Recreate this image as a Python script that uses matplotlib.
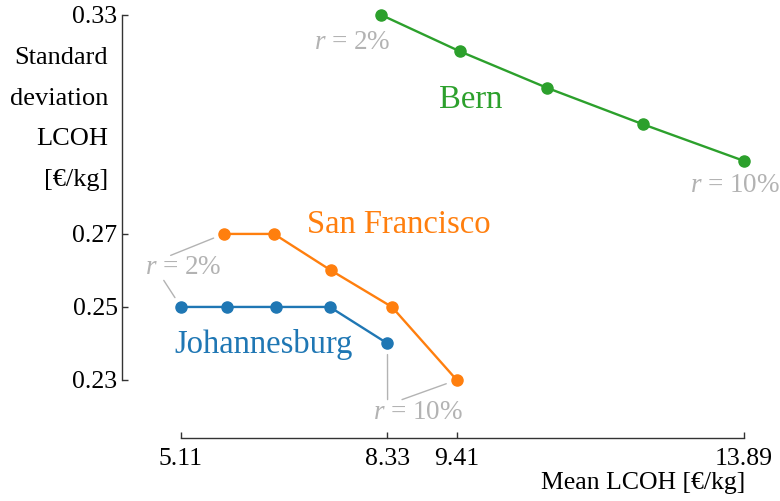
import matplotlib
matplotlib.use("Agg")
import matplotlib.pyplot as plt

plt.rcParams["font.family"] = ["Liberation Serif", "DejaVu Serif"]
plt.rcParams["mathtext.fontset"] = "custom"
plt.rcParams["mathtext.rm"] = "Liberation Serif"
plt.rcParams["mathtext.it"] = "Liberation Serif:italic"

# Mean and standard deviation of LCOH for interest rates r = 2% ... 10%
johannesburg_mean = [5.11, 5.83, 6.59, 7.43, 8.33]
johannesburg_std = [0.25, 0.25, 0.25, 0.25, 0.24]
sanfrancisco_mean = [5.78, 6.56, 7.45, 8.40, 9.41]
sanfrancisco_std = [0.27, 0.27, 0.26, 0.25, 0.23]
bern_mean = [8.23, 9.46, 10.82, 12.32, 13.89]
bern_std = [0.33, 0.32, 0.31, 0.30, 0.29]

x_ticks = [5.11, 8.33, 9.41, 13.89]
y_ticks = [0.23, 0.25, 0.27, 0.33]

blue, orange, green = "#1f77b4", "#ff7f0e", "#2ca02c"
grey = "#b3b3b3"

fig = plt.figure(figsize=(7.8, 5.01), dpi=100)
ax = fig.add_axes([0.156, 0.1257, 0.8312, 0.8643])

for xs, ys, c in [(johannesburg_mean, johannesburg_std, blue),
                  (sanfrancisco_mean, sanfrancisco_std, orange),
                  (bern_mean, bern_std, green)]:
    ax.plot(xs, ys, color=c, lw=1.7, marker="o", ms=8, clip_on=False, zorder=3)

ax.set_xlim(4.185, 14.296)
ax.set_ylim(0.2141, 0.3327)

for s in ["top", "right"]:
    ax.spines[s].set_visible(False)
ax.spines["left"].set_bounds(y_ticks[0], y_ticks[-1])
ax.spines["bottom"].set_bounds(x_ticks[0], x_ticks[-1])
for s in ["left", "bottom"]:
    ax.spines[s].set_linewidth(1.0)
    ax.spines[s].set_color("#333333")

ax.set_xticks(x_ticks)
ax.set_xticklabels([f"{v:.2f}" for v in x_ticks])
ax.set_yticks(y_ticks)
ax.set_yticklabels([f"{v:.2f}" for v in y_ticks])
ax.tick_params(direction="in", length=4, width=1.0, color="#333333", labelsize=18.5)
ax.tick_params(axis="x", pad=7)
ax.tick_params(axis="y", pad=3)

fig.text(108 / 780, 1 - 119 / 501, "Standard\ndeviation\nLCOH\n[€/kg]",
         ha="right", va="center", multialignment="right", fontsize=19,
         linespacing=2.1)
fig.text(745 / 780, 1 - 483 / 501, "Mean LCOH [€/kg]", ha="right", va="center",
         fontsize=18.5)

# City names
ax.text(9.63, 0.3067, "Bern", color=green, fontsize=23.5, ha="center", va="center")
ax.text(8.51, 0.2725, "San Francisco", color=orange, fontsize=23.5, ha="center", va="center")
ax.text(6.39, 0.2396, "Johannesburg", color=blue, fontsize=23.5, ha="center", va="center")

# Interest rate annotations
lbl_kw = dict(color=grey, fontsize=19.5, ha="center", va="center")
ax.text(7.78, 0.3223, "$r$ = 2%", **lbl_kw)
ax.text(13.75, 0.2834, "$r$ = 10%", **lbl_kw)
low_r = ax.text(5.14, 0.2607, "$r$ = 2%", **lbl_kw)
high_r = ax.text(8.81, 0.2212, "$r$ = 10%", **lbl_kw)

leader = dict(arrowstyle="-", color=grey, lw=1.0, shrinkA=0, shrinkB=8)
ax.annotate("", xy=(sanfrancisco_mean[0], sanfrancisco_std[0]), xytext=(0.34, 1.0),
            textcoords=low_r, arrowprops=leader)
ax.annotate("", xy=(johannesburg_mean[0], johannesburg_std[0]), xytext=(0.25, 0.0),
            textcoords=low_r, arrowprops=leader)
ax.annotate("", xy=(johannesburg_mean[-1], johannesburg_std[-1]), xytext=(0.16, 1.0),
            textcoords=high_r, arrowprops=leader)
ax.annotate("", xy=(sanfrancisco_mean[-1], sanfrancisco_std[-1]), xytext=(0.32, 1.0),
            textcoords=high_r, arrowprops=leader)

fig.savefig("out.png", dpi=100)
